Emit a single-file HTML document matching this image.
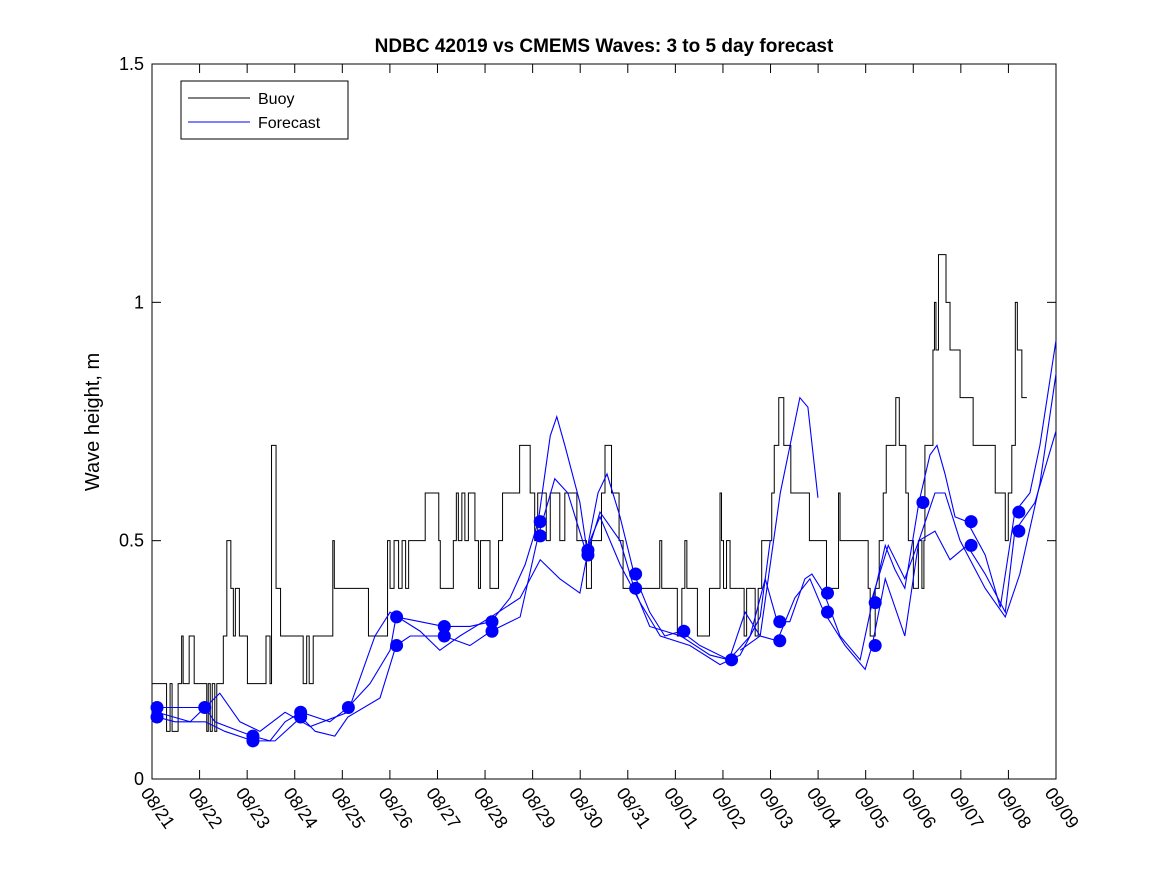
<!DOCTYPE html>
<html><head><meta charset="utf-8"><style>
body{margin:0;background:#fff;}
svg{display:block;font-family:"Liberation Sans","DejaVu Sans",sans-serif;}
</style></head><body>
<svg id="chart" width="1167" height="875" viewBox="0 0 1167 875">
<rect width="1167" height="875" fill="#fff"/>
<text x="604" y="52" text-anchor="middle" font-size="19" font-weight="bold">NDBC 42019 vs CMEMS Waves: 3 to 5 day forecast</text>
<text transform="translate(99,422) rotate(-90)" text-anchor="middle" font-size="20">Wave height, m</text>
<g id="plot"></g>
<g id="legend">
<rect x="181" y="81" width="167" height="58" fill="#fff" stroke="#000" stroke-width="1"/>
<line x1="188" y1="98" x2="250" y2="98" stroke="#000"/>
<text x="258" y="104" font-size="16">Buoy</text>
<line x1="188" y1="122" x2="250" y2="122" stroke="#00f"/>
<text x="258" y="128" font-size="16">Forecast</text>
</g>
</svg>
<script>
const xTickLabels=["08/21","08/22","08/23","08/24","08/25","08/26","08/27","08/28","08/29","08/30","08/31","09/01","09/02","09/03","09/04","09/05","09/06","09/07","09/08","09/09"];
const yTicks=[0,0.5,1,1.5];
const yTickLabels=["0","0.5","1","1.5"];
const buoyT=[0,0.29,0.36,0.40,0.52,0.59,0.62,0.74,0.84,1.09,1.12,1.16,1.20,1.25,1.29,1.42,1.49,1.57,1.62,1.66,1.74,1.90,2.27,2.35,2.38,2.47,2.56,3.01,3.08,3.13,3.21,3.60,3.63,4.31,4.69,4.74,4.82,4.91,4.98,5.05,5.11,5.27,5.44,5.71,5.74,6.00,6.06,6.10,6.17,6.23,6.30,6.43,6.50,6.54,6.73,6.90,6.98,7.32,7.53,7.62,7.68,7.85,7.93,8.12,8.22,8.46,8.65,8.75,8.95,9.02,9.15,9.30,9.38,9.48,10.11,10.15,10.46,10.55,10.61,10.65,10.86,11.10,11.31,11.34,11.38,11.44,11.51,11.61,11.79,11.84,12.01,12.07,12.14,12.34,12.39,12.48,12.58,12.72,13.09,13.43,13.67,13.70,13.91,14.26,14.30,14.40,14.48,14.56,14.62,14.81,14.88,15.01,15.06,15.16,15.26,15.33,15.37,15.39,15.55,15.58,15.61,15.66,15.81,15.89,16.09,16.35,16.79,16.99,17.05,17.12,17.19,17.23,17.32];
const buoyV=[0.2,0.1,0.2,0.1,0.2,0.3,0.2,0.3,0.2,0.1,0.2,0.1,0.2,0.1,0.2,0.3,0.5,0.4,0.3,0.4,0.3,0.2,0.3,0.2,0.7,0.4,0.3,0.2,0.3,0.2,0.3,0.5,0.4,0.3,0.5,0.4,0.5,0.4,0.5,0.4,0.5,0.5,0.6,0.5,0.4,0.5,0.6,0.5,0.6,0.5,0.6,0.5,0.4,0.5,0.4,0.5,0.6,0.7,0.6,0.5,0.6,0.5,0.6,0.5,0.6,0.5,0.4,0.5,0.6,0.7,0.6,0.5,0.4,0.4,0.5,0.4,0.3,0.4,0.5,0.4,0.3,0.4,0.6,0.5,0.4,0.5,0.4,0.4,0.3,0.4,0.3,0.4,0.5,0.6,0.7,0.8,0.7,0.6,0.5,0.4,0.6,0.5,0.5,0.4,0.3,0.4,0.5,0.6,0.7,0.8,0.7,0.6,0.5,0.4,0.5,0.4,0.5,0.7,0.9,1.0,0.9,1.1,1.0,0.9,0.8,0.7,0.6,0.5,0.6,0.7,1.0,0.9,0.8,0.9,0.9];
const fcAT=[0.10,1.06,1.25,1.75,2.01,2.35,2.65,2.97,3.54,3.90,4.34,4.74,4.86,5.34,5.81,6.33,6.75,7.13,7.43,7.69,7.93,8.06,8.22,8.52,8.66,8.88,9.06,9.32,9.60,9.91,10.21,10.53,10.91,11.49,11.91,12.21,12.45,12.70,13.00,13.14,13.38,13.70,14.10,14.34,14.60,14.79,14.99,15.27,15.49,15.63,15.79,15.99,16.23,16.59,16.89,17.18,17.48,17.68,18.0];
const fcAV=[0.15,0.15,0.12,0.10,0.09,0.08,0.12,0.14,0.12,0.15,0.20,0.27,0.34,0.33,0.32,0.32,0.33,0.38,0.45,0.54,0.72,0.76,0.70,0.58,0.48,0.60,0.64,0.55,0.43,0.35,0.30,0.31,0.28,0.25,0.30,0.42,0.33,0.33,0.42,0.43,0.39,0.30,0.25,0.37,0.49,0.44,0.40,0.58,0.68,0.70,0.64,0.55,0.54,0.47,0.36,0.56,0.60,0.70,0.92];
const fcBT=[0.10,0.46,1.06,1.45,2.01,2.45,2.97,3.25,3.64,3.90,4.54,4.86,5.14,5.81,6.33,6.75,7.33,7.69,8.02,8.28,8.66,8.92,9.32,9.60,9.91,10.53,11.11,11.49,11.81,12.11,12.45,12.80,13.10,13.38,13.80,14.20,14.34,14.60,14.99,15.27,15.59,15.89,16.23,16.59,16.99,17.18,17.58,18.0];
const fcBV=[0.13,0.12,0.12,0.10,0.08,0.08,0.13,0.10,0.09,0.13,0.17,0.28,0.30,0.30,0.28,0.31,0.34,0.51,0.63,0.60,0.47,0.56,0.50,0.40,0.32,0.30,0.26,0.25,0.35,0.30,0.29,0.38,0.42,0.35,0.28,0.23,0.28,0.42,0.30,0.50,0.52,0.46,0.49,0.43,0.35,0.52,0.58,0.73];
const fcCT=[0.10,0.76,1.35,1.75,2.15,2.65,3.15,3.90,4.44,4.74,5.34,5.73,6.13,6.75,7.33,7.73,8.12,8.52,8.72,8.92,9.32,9.72,10.12,10.71,11.31,11.71,12.11,12.31];
const fcCV=[0.14,0.12,0.18,0.12,0.10,0.14,0.11,0.14,0.30,0.35,0.31,0.27,0.30,0.34,0.38,0.46,0.42,0.39,0.50,0.55,0.45,0.37,0.30,0.28,0.24,0.26,0.34,0.50];
const fcDT=[11.71,12.11,12.51,12.90,13.06,13.26];
const fcDV=[0.27,0.30,0.60,0.80,0.78,0.59];
const fcET=[14.34,14.66,14.99,15.27,15.59,15.79,16.09,16.59,16.99,17.28,17.68,18.0];
const fcEV=[0.38,0.49,0.42,0.50,0.60,0.60,0.50,0.40,0.34,0.43,0.62,0.85];
const dotT=[0.10,1.05,2.01,2.96,3.91,4.87,5.82,6.77,7.73,8.68,9.63,10.59,11.54,12.50,13.45,14.40,15.35,16.31,17.26];
const dotA=[0.15,0.15,0.09,0.14,0.15,0.34,0.32,0.33,0.54,0.48,0.43,0.31,0.25,0.33,0.39,0.37,0.58,0.54,0.56];
const dotB=[0.13,null,0.08,0.13,null,0.28,0.30,0.31,0.51,0.47,0.40,null,null,0.29,0.35,0.28,null,0.49,0.52];

const NS="http://www.w3.org/2000/svg";
const X0=152,X1=1056,Y0=779,Y1=64,DMAX=18,VMAX=1.5;
const sx=d=>X0+d*(X1-X0)/DMAX;
const sy=v=>Y0-v*(Y0-Y1)/VMAX;
const tickX=i=>X0+i*(X1-X0)/(xTickLabels.length-1);
const plot=document.getElementById('plot');
function mk(tag,attrs){const e=document.createElementNS(NS,tag);for(const k in attrs)e.setAttribute(k,attrs[k]);plot.appendChild(e);return e;}

const frame=mk('rect',{x:X0,y:Y1,width:X1-X0,height:Y0-Y1,fill:'none',stroke:'#000','stroke-width':1});



yTicks.forEach((v,i)=>{
  const t1=mk('line',{x1:X0,x2:X0+9,y1:sy(v),y2:sy(v),stroke:'#000'});
  
  
  const t2=mk('line',{x1:X1-9,x2:X1,y1:sy(v),y2:sy(v),stroke:'#000'});
  
  
  const tx=mk('text',{x:X0-8,y:sy(v)+6,'text-anchor':'end','font-size':18});
  tx.textContent=yTickLabels[i];
  
  
});
xTickLabels.forEach((lab,i)=>{
  const x=tickX(i);
  const t1=mk('line',{x1:x,x2:x,y1:Y0,y2:Y0-9,stroke:'#000'});
  
  
  const t2=mk('line',{x1:x,x2:x,y1:Y1,y2:Y1+9,stroke:'#000'});
  
  
  const tx=mk('text',{x:0,y:0,'font-size':18,transform:`translate(${x-12},${Y0+14}) rotate(55)`});
  tx.textContent=lab;
  
  
});

let bp='';
buoyT.forEach((t,i)=>{
  const x=sx(t),y=sy(buoyV[i]);
  if(i===0)bp+=`M${x},${y}`;else bp+=`H${x}V${y}`;
});
bp+=`H${sx(buoyT[buoyT.length-1]+0.1)}`;
const buoy=mk('path',{d:bp,fill:'none',stroke:'#000','stroke-width':1});



function line(T,V,name){
  const p=T.map((t,i)=>`${i?'L':'M'}${sx(t)},${sy(V[i])}`).join('');
  const e=mk('path',{d:p,fill:'none',stroke:'#00f','stroke-width':1.1});
  
  
}
line(fcAT,fcAV,'forecast-series-a');
line(fcBT,fcBV,'forecast-series-b');
line(fcCT,fcCV,'forecast-series-c');
line(fcDT,fcDV,'forecast-series-d');
line(fcET,fcEV,'forecast-series-e');

[dotA,dotB].forEach(arr=>{
  arr.forEach((v,i)=>{
    if(v===null)return;
    const c=mk('circle',{cx:sx(dotT[i]),cy:sy(v),r:6.5,fill:'#00f'});
    
    
  });
});
plot.appendChild(document.getElementById('legend'));
</script>
</body></html>
